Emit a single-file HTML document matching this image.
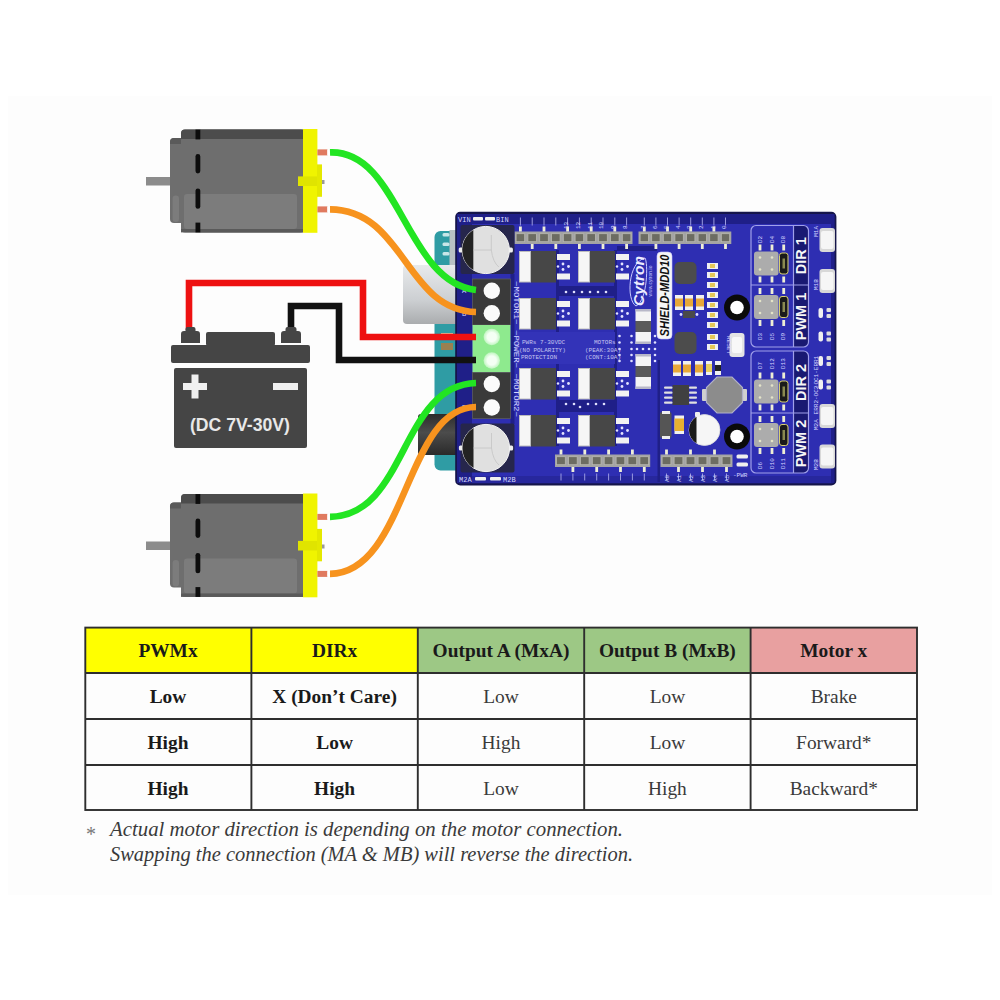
<!DOCTYPE html>
<html><head><meta charset="utf-8">
<style>
html,body{margin:0;padding:0;background:#fff;width:1000px;height:1000px;overflow:hidden}
svg{display:block}
.hd{font-family:"Liberation Serif",serif;font-weight:bold;font-size:19.4px;fill:#1a1a1a}
.bd{font-family:"Liberation Serif",serif;font-weight:bold;font-size:19.4px;fill:#1a1a1a}
.rg{font-family:"Liberation Serif",serif;font-size:19.4px;fill:#3a3a3a}
.ft{font-family:"Liberation Serif",serif;font-style:italic;font-size:20px;fill:#3a3a3a}
</style></head><body>
<svg width="1000" height="1000" viewBox="0 0 1000 1000">
<rect x="8" y="96" width="984" height="799" fill="#fdfdfd"/>
<defs><linearGradient id="usb" x1="0" y1="0" x2="0" y2="1"><stop offset="0" stop-color="#e8eaec"/><stop offset=".6" stop-color="#cccfd2"/><stop offset="1" stop-color="#aaacae"/></linearGradient><linearGradient id="jack" x1="0" y1="0" x2="0" y2="1"><stop offset="0" stop-color="#2c2c2c"/><stop offset=".45" stop-color="#4c4c4c"/><stop offset="1" stop-color="#2a2a2a"/></linearGradient><radialGradient id="grn" cx=".5" cy=".5" r=".5"><stop offset=".55" stop-color="#f4fff4"/><stop offset="1" stop-color="#bff5bf"/></radialGradient></defs>
<rect x="434.5" y="231" width="30" height="239.5" rx="6" fill="#2f9ca4"/>
<rect x="449.5" y="230" width="7" height="70" fill="#b8c0c4"/><g fill="#c8e6e8"><rect x="442.5" y="233" width="7" height="3.5" rx="1.5"/><rect x="442.5" y="242.5" width="7" height="3.5" rx="1.5"/><rect x="442.5" y="252" width="7" height="3.5" rx="1.5"/></g>
<rect x="403" y="265" width="60" height="59" rx="4" fill="url(#usb)"/>
<rect x="418" y="414" width="45" height="41" rx="3" fill="url(#jack)"/>
<rect x="441" y="333" width="12" height="6" fill="#d8c8a0"/><rect x="441" y="343" width="12" height="7" fill="#9a8050"/>
<rect x="456.3" y="212.8" width="379" height="271.6" rx="4" fill="#2e2eb2" stroke="#15154a" stroke-width="2.2"/>
<g fill="#1f1f88">
<rect x="457" y="214" width="15" height="269"/>
<rect x="457" y="214" width="376" height="10"/>
<rect x="457" y="476" width="376" height="7" opacity=".5"/>
<rect x="510.5" y="274" width="4" height="150"/>
<rect x="556" y="250" width="3" height="196"/>
<rect x="559" y="286" width="56" height="10"/>
<rect x="559" y="400" width="56" height="12"/>
<rect x="614" y="250" width="3" height="196"/>
<rect x="657.5" y="360" width="2.5" height="122"/>
<rect x="617" y="246" width="40" height="5"/>
<rect x="831" y="214" width="3.5" height="269"/>
</g>
<g fill="#3333b8">
<rect x="515" y="332" width="100" height="32"/>
</g>
<rect x="514.5" y="231.5" width="118.0" height="12.5" fill="#a4a4a4"/><rect x="516.1" y="233.7" width="8.6" height="8" fill="#6c6c62" stroke="#b8b8b0" stroke-width=".8"/><rect x="527.9" y="233.7" width="8.6" height="8" fill="#6c6c62" stroke="#b8b8b0" stroke-width=".8"/><rect x="539.7" y="233.7" width="8.6" height="8" fill="#6c6c62" stroke="#b8b8b0" stroke-width=".8"/><rect x="551.5" y="233.7" width="8.6" height="8" fill="#6c6c62" stroke="#b8b8b0" stroke-width=".8"/><rect x="563.3" y="233.7" width="8.6" height="8" fill="#6c6c62" stroke="#b8b8b0" stroke-width=".8"/><rect x="575.1" y="233.7" width="8.6" height="8" fill="#6c6c62" stroke="#b8b8b0" stroke-width=".8"/><rect x="586.9" y="233.7" width="8.6" height="8" fill="#6c6c62" stroke="#b8b8b0" stroke-width=".8"/><rect x="598.7" y="233.7" width="8.6" height="8" fill="#6c6c62" stroke="#b8b8b0" stroke-width=".8"/><rect x="610.5" y="233.7" width="8.6" height="8" fill="#6c6c62" stroke="#b8b8b0" stroke-width=".8"/><rect x="622.3" y="233.7" width="8.6" height="8" fill="#6c6c62" stroke="#b8b8b0" stroke-width=".8"/>
<rect x="519.0" y="226.5" width="2.8" height="5" fill="#eeeed8"/><rect x="519.9" y="217.5" width="1" height="8" fill="#9a9ae0"/><rect x="530.8" y="244.0" width="2.8" height="5" fill="#eeeed8"/><rect x="531.7" y="217.5" width="1" height="8" fill="#9a9ae0"/><rect x="542.6" y="226.5" width="2.8" height="5" fill="#eeeed8"/><rect x="543.5" y="217.5" width="1" height="8" fill="#9a9ae0"/><rect x="554.4" y="244.0" width="2.8" height="5" fill="#eeeed8"/><rect x="555.3" y="217.5" width="1" height="8" fill="#9a9ae0"/><rect x="566.2" y="226.5" width="2.8" height="5" fill="#eeeed8"/><rect x="567.1" y="217.5" width="1" height="8" fill="#9a9ae0"/><rect x="578.0" y="244.0" width="2.8" height="5" fill="#eeeed8"/><rect x="578.9" y="217.5" width="1" height="8" fill="#9a9ae0"/><rect x="589.8" y="226.5" width="2.8" height="5" fill="#eeeed8"/><rect x="590.7" y="217.5" width="1" height="8" fill="#9a9ae0"/><rect x="601.6" y="244.0" width="2.8" height="5" fill="#eeeed8"/><rect x="602.5" y="217.5" width="1" height="8" fill="#9a9ae0"/><rect x="613.4" y="226.5" width="2.8" height="5" fill="#eeeed8"/><rect x="614.3" y="217.5" width="1" height="8" fill="#9a9ae0"/><rect x="625.2" y="244.0" width="2.8" height="5" fill="#eeeed8"/><rect x="626.1" y="217.5" width="1" height="8" fill="#9a9ae0"/>
<rect x="638.5" y="231.5" width="92.8" height="12.5" fill="#a4a4a4"/><rect x="640.1" y="233.7" width="8.4" height="8" fill="#6c6c62" stroke="#b8b8b0" stroke-width=".8"/><rect x="651.7" y="233.7" width="8.4" height="8" fill="#6c6c62" stroke="#b8b8b0" stroke-width=".8"/><rect x="663.3" y="233.7" width="8.4" height="8" fill="#6c6c62" stroke="#b8b8b0" stroke-width=".8"/><rect x="674.9" y="233.7" width="8.4" height="8" fill="#6c6c62" stroke="#b8b8b0" stroke-width=".8"/><rect x="686.5" y="233.7" width="8.4" height="8" fill="#6c6c62" stroke="#b8b8b0" stroke-width=".8"/><rect x="698.1" y="233.7" width="8.4" height="8" fill="#6c6c62" stroke="#b8b8b0" stroke-width=".8"/><rect x="709.7" y="233.7" width="8.4" height="8" fill="#6c6c62" stroke="#b8b8b0" stroke-width=".8"/><rect x="721.3" y="233.7" width="8.4" height="8" fill="#6c6c62" stroke="#b8b8b0" stroke-width=".8"/>
<rect x="642.9" y="226.5" width="2.8" height="5" fill="#eeeed8"/><rect x="643.8" y="217.5" width="1" height="8" fill="#9a9ae0"/><rect x="654.5" y="244.0" width="2.8" height="5" fill="#eeeed8"/><rect x="655.4" y="217.5" width="1" height="8" fill="#9a9ae0"/><rect x="666.1" y="226.5" width="2.8" height="5" fill="#eeeed8"/><rect x="667.0" y="217.5" width="1" height="8" fill="#9a9ae0"/><rect x="677.7" y="244.0" width="2.8" height="5" fill="#eeeed8"/><rect x="678.6" y="217.5" width="1" height="8" fill="#9a9ae0"/><rect x="689.3" y="226.5" width="2.8" height="5" fill="#eeeed8"/><rect x="690.2" y="217.5" width="1" height="8" fill="#9a9ae0"/><rect x="700.9" y="244.0" width="2.8" height="5" fill="#eeeed8"/><rect x="701.8" y="217.5" width="1" height="8" fill="#9a9ae0"/><rect x="712.5" y="226.5" width="2.8" height="5" fill="#eeeed8"/><rect x="713.4" y="217.5" width="1" height="8" fill="#9a9ae0"/><rect x="724.1" y="244.0" width="2.8" height="5" fill="#eeeed8"/><rect x="725.0" y="217.5" width="1" height="8" fill="#9a9ae0"/>
<rect x="555" y="454.5" width="95.2" height="12.5" fill="#a4a4a4"/><rect x="556.6" y="456.7" width="8.7" height="8" fill="#6c6c62" stroke="#b8b8b0" stroke-width=".8"/><rect x="568.5" y="456.7" width="8.7" height="8" fill="#6c6c62" stroke="#b8b8b0" stroke-width=".8"/><rect x="580.4" y="456.7" width="8.7" height="8" fill="#6c6c62" stroke="#b8b8b0" stroke-width=".8"/><rect x="592.3" y="456.7" width="8.7" height="8" fill="#6c6c62" stroke="#b8b8b0" stroke-width=".8"/><rect x="604.2" y="456.7" width="8.7" height="8" fill="#6c6c62" stroke="#b8b8b0" stroke-width=".8"/><rect x="616.1" y="456.7" width="8.7" height="8" fill="#6c6c62" stroke="#b8b8b0" stroke-width=".8"/><rect x="628.0" y="456.7" width="8.7" height="8" fill="#6c6c62" stroke="#b8b8b0" stroke-width=".8"/><rect x="639.9" y="456.7" width="8.7" height="8" fill="#6c6c62" stroke="#b8b8b0" stroke-width=".8"/>
<rect x="559.6" y="449.5" width="2.8" height="5" fill="#eeeed8"/><rect x="560.5" y="473.5" width="1" height="7" fill="#9a9ae0"/><rect x="571.5" y="467.0" width="2.8" height="5" fill="#eeeed8"/><rect x="572.4" y="473.5" width="1" height="7" fill="#9a9ae0"/><rect x="583.4" y="449.5" width="2.8" height="5" fill="#eeeed8"/><rect x="584.2" y="473.5" width="1" height="7" fill="#9a9ae0"/><rect x="595.3" y="467.0" width="2.8" height="5" fill="#eeeed8"/><rect x="596.2" y="473.5" width="1" height="7" fill="#9a9ae0"/><rect x="607.2" y="449.5" width="2.8" height="5" fill="#eeeed8"/><rect x="608.1" y="473.5" width="1" height="7" fill="#9a9ae0"/><rect x="619.1" y="467.0" width="2.8" height="5" fill="#eeeed8"/><rect x="620.0" y="473.5" width="1" height="7" fill="#9a9ae0"/><rect x="631.0" y="449.5" width="2.8" height="5" fill="#eeeed8"/><rect x="631.9" y="473.5" width="1" height="7" fill="#9a9ae0"/><rect x="642.9" y="467.0" width="2.8" height="5" fill="#eeeed8"/><rect x="643.8" y="473.5" width="1" height="7" fill="#9a9ae0"/>
<rect x="660.5" y="454.5" width="72.0" height="12.5" fill="#a4a4a4"/><rect x="662.1" y="456.7" width="8.8" height="8" fill="#6c6c62" stroke="#b8b8b0" stroke-width=".8"/><rect x="674.1" y="456.7" width="8.8" height="8" fill="#6c6c62" stroke="#b8b8b0" stroke-width=".8"/><rect x="686.1" y="456.7" width="8.8" height="8" fill="#6c6c62" stroke="#b8b8b0" stroke-width=".8"/><rect x="698.1" y="456.7" width="8.8" height="8" fill="#6c6c62" stroke="#b8b8b0" stroke-width=".8"/><rect x="710.1" y="456.7" width="8.8" height="8" fill="#6c6c62" stroke="#b8b8b0" stroke-width=".8"/><rect x="722.1" y="456.7" width="8.8" height="8" fill="#6c6c62" stroke="#b8b8b0" stroke-width=".8"/>
<rect x="665.1" y="449.5" width="2.8" height="5" fill="#eeeed8"/><rect x="666.0" y="473.5" width="1" height="7" fill="#9a9ae0"/><rect x="677.1" y="467.0" width="2.8" height="5" fill="#eeeed8"/><rect x="678.0" y="473.5" width="1" height="7" fill="#9a9ae0"/><rect x="689.1" y="449.5" width="2.8" height="5" fill="#eeeed8"/><rect x="690.0" y="473.5" width="1" height="7" fill="#9a9ae0"/><rect x="701.1" y="467.0" width="2.8" height="5" fill="#eeeed8"/><rect x="702.0" y="473.5" width="1" height="7" fill="#9a9ae0"/><rect x="713.1" y="449.5" width="2.8" height="5" fill="#eeeed8"/><rect x="714.0" y="473.5" width="1" height="7" fill="#9a9ae0"/><rect x="725.1" y="467.0" width="2.8" height="5" fill="#eeeed8"/><rect x="726.0" y="473.5" width="1" height="7" fill="#9a9ae0"/>
<rect x="519" y="251" width="12" height="31.5" fill="#bdbdbd"/><rect x="520" y="252" width="10" height="29.5" fill="#f6f6f6"/><rect x="531" y="251" width="25" height="31.5" fill="#474747"/><rect x="557" y="254" width="13" height="6" fill="#f2f2f2"/><rect x="557" y="273.5" width="13" height="6" fill="#f2f2f2"/><g fill="#e4e4ff"><circle cx="563" cy="264" r="1.4"/><circle cx="563" cy="269.5" r="1.4"/><circle cx="568.5" cy="266.5" r="1.4"/><circle cx="558" cy="266.5" r="1.2"/></g>
<rect x="578" y="251" width="12" height="31.5" fill="#bdbdbd"/><rect x="579" y="252" width="10" height="29.5" fill="#f6f6f6"/><rect x="590" y="251" width="25" height="31.5" fill="#474747"/><rect x="616" y="254" width="13" height="6" fill="#f2f2f2"/><rect x="616" y="273.5" width="13" height="6" fill="#f2f2f2"/><g fill="#e4e4ff"><circle cx="622" cy="264" r="1.4"/><circle cx="622" cy="269.5" r="1.4"/><circle cx="627.5" cy="266.5" r="1.4"/><circle cx="617" cy="266.5" r="1.2"/></g>
<rect x="519" y="298" width="12" height="31.5" fill="#bdbdbd"/><rect x="520" y="299" width="10" height="29.5" fill="#f6f6f6"/><rect x="531" y="298" width="25" height="31.5" fill="#474747"/><rect x="557" y="301" width="13" height="6" fill="#f2f2f2"/><rect x="557" y="320.5" width="13" height="6" fill="#f2f2f2"/><g fill="#e4e4ff"><circle cx="563" cy="311" r="1.4"/><circle cx="563" cy="316.5" r="1.4"/><circle cx="568.5" cy="313.5" r="1.4"/><circle cx="558" cy="313.5" r="1.2"/></g>
<rect x="578" y="298" width="12" height="31.5" fill="#bdbdbd"/><rect x="579" y="299" width="10" height="29.5" fill="#f6f6f6"/><rect x="590" y="298" width="25" height="31.5" fill="#474747"/><rect x="616" y="301" width="13" height="6" fill="#f2f2f2"/><rect x="616" y="320.5" width="13" height="6" fill="#f2f2f2"/><g fill="#e4e4ff"><circle cx="622" cy="311" r="1.4"/><circle cx="622" cy="316.5" r="1.4"/><circle cx="627.5" cy="313.5" r="1.4"/><circle cx="617" cy="313.5" r="1.2"/></g>
<rect x="519" y="368" width="12" height="31.5" fill="#bdbdbd"/><rect x="520" y="369" width="10" height="29.5" fill="#f6f6f6"/><rect x="531" y="368" width="25" height="31.5" fill="#474747"/><rect x="557" y="371" width="13" height="6" fill="#f2f2f2"/><rect x="557" y="390.5" width="13" height="6" fill="#f2f2f2"/><g fill="#e4e4ff"><circle cx="563" cy="381" r="1.4"/><circle cx="563" cy="386.5" r="1.4"/><circle cx="568.5" cy="383.5" r="1.4"/><circle cx="558" cy="383.5" r="1.2"/></g>
<rect x="578" y="368" width="12" height="31.5" fill="#bdbdbd"/><rect x="579" y="369" width="10" height="29.5" fill="#f6f6f6"/><rect x="590" y="368" width="25" height="31.5" fill="#474747"/><rect x="616" y="371" width="13" height="6" fill="#f2f2f2"/><rect x="616" y="390.5" width="13" height="6" fill="#f2f2f2"/><g fill="#e4e4ff"><circle cx="622" cy="381" r="1.4"/><circle cx="622" cy="386.5" r="1.4"/><circle cx="627.5" cy="383.5" r="1.4"/><circle cx="617" cy="383.5" r="1.2"/></g>
<rect x="519" y="415" width="12" height="31.5" fill="#bdbdbd"/><rect x="520" y="416" width="10" height="29.5" fill="#f6f6f6"/><rect x="531" y="415" width="25" height="31.5" fill="#474747"/><rect x="557" y="418" width="13" height="6" fill="#f2f2f2"/><rect x="557" y="437.5" width="13" height="6" fill="#f2f2f2"/><g fill="#e4e4ff"><circle cx="563" cy="428" r="1.4"/><circle cx="563" cy="433.5" r="1.4"/><circle cx="568.5" cy="430.5" r="1.4"/><circle cx="558" cy="430.5" r="1.2"/></g>
<rect x="578" y="415" width="12" height="31.5" fill="#bdbdbd"/><rect x="579" y="416" width="10" height="29.5" fill="#f6f6f6"/><rect x="590" y="415" width="25" height="31.5" fill="#474747"/><rect x="616" y="418" width="13" height="6" fill="#f2f2f2"/><rect x="616" y="437.5" width="13" height="6" fill="#f2f2f2"/><g fill="#e4e4ff"><circle cx="622" cy="428" r="1.4"/><circle cx="622" cy="433.5" r="1.4"/><circle cx="627.5" cy="430.5" r="1.4"/><circle cx="617" cy="430.5" r="1.2"/></g>
<g fill="#e0e0ff">
<circle cx="582" cy="292" r="1.3"/>
<circle cx="590" cy="292" r="1.3"/>
<circle cx="598" cy="292" r="1.3"/>
<circle cx="606" cy="292" r="1.3"/>
<circle cx="566" cy="292" r="1.3"/>
<circle cx="574" cy="292" r="1.3"/>
<circle cx="588" cy="404" r="1.3"/>
<circle cx="596" cy="404" r="1.3"/>
<circle cx="604" cy="404" r="1.3"/>
<circle cx="566" cy="404" r="1.3"/>
<circle cx="574" cy="404" r="1.3"/>
<circle cx="580" cy="407" r="1.3"/>
</g>
<rect x="460.5" y="225" width="54" height="49" rx="2" fill="#26264c"/>
<rect x="460.5" y="423.5" width="54" height="49" rx="2" fill="#26264c"/>
<rect x="458.7" y="247.5" width="5" height="5" rx="1.5" fill="#eee"/><rect x="507.90000000000003" y="247.5" width="5" height="5" rx="1.5" fill="#eee"/><circle cx="485.8" cy="250" r="23.6" fill="#e0e0e0" stroke="#f4f4f4" stroke-width="1"/><path d="M473.3,230.0 A23.6,23.6 0 0 0 473.3,270.0 Z" fill="#232323"/><path d="M473.3,250H491.3V235M491.3,250Q492.8,262 498.8,267" stroke="#c4c4c4" stroke-width="0.8" fill="none"/>
<rect x="458.9" y="445.5" width="5" height="5" rx="1.5" fill="#eee"/><rect x="508.1" y="445.5" width="5" height="5" rx="1.5" fill="#eee"/><circle cx="486" cy="448" r="23.6" fill="#e0e0e0" stroke="#f4f4f4" stroke-width="1"/><path d="M473.5,428.0 A23.6,23.6 0 0 0 473.5,468.0 Z" fill="#232323"/><path d="M473.5,448H491.5V433M491.5,448Q493,460 499,465" stroke="#c4c4c4" stroke-width="0.8" fill="none"/>
<rect x="472.5" y="279" width="38" height="46" fill="#3a3a3a" stroke="#5a5a5a" stroke-width=".8"/>
<rect x="472.5" y="325" width="38" height="47.5" fill="#8eea8e"/>
<rect x="472.5" y="372.5" width="38" height="46" fill="#3a3a3a" stroke="#5a5a5a" stroke-width=".8"/>
<circle cx="491.8" cy="290.7" r="8.2" fill="#fbfbfb"/>
<circle cx="491.8" cy="313.2" r="8.2" fill="#fbfbfb"/>
<circle cx="491.8" cy="384" r="8.2" fill="#fbfbfb"/>
<circle cx="491.8" cy="407.5" r="8.2" fill="#fbfbfb"/>
<circle cx="491.8" cy="337" r="8.2" fill="url(#grn)"/>
<circle cx="491.8" cy="360.5" r="8.2" fill="url(#grn)"/>
<path d="M657,256 a4,4 0 0 1 4,-4 h7 a4,4 0 0 1 4,4 v79 a4,4 0 0 1 -4,4 h-7 a4,4 0 0 1 -4,-4z" fill="#f6f6f6" stroke="#c8c8ff" stroke-width=".6"/>
<text transform="translate(669,295.5) rotate(-90)" text-anchor="middle" font-family="Liberation Sans" font-weight="bold" font-style="italic" font-size="12.5" fill="#111" textLength="82" lengthAdjust="spacingAndGlyphs">SHIELD-MDD10</text>
<path d="M645,258 C628,262 626,300 636,306 C648,300 648,262 645,258z" fill="none" stroke="#c8c8ff" stroke-width="1"/>
<text transform="translate(643.5,281) rotate(-90)" text-anchor="middle" font-family="Liberation Sans" font-style="italic" font-weight="bold" font-size="14" fill="#ececff" textLength="50" lengthAdjust="spacingAndGlyphs">Cytron</text>
<text transform="translate(652,281) rotate(-90)" text-anchor="middle" font-family="Liberation Sans" font-size="5" fill="#c8c8ff">www.cytron.io</text>
<rect x="635.5" y="309" width="15.5" height="12" fill="#f4f4f4"/><rect x="635.5" y="321" width="15.5" height="11" fill="#5a5a5a"/><rect x="635.5" y="332" width="15.5" height="12" fill="#f4f4f4"/><rect x="635.5" y="309" width="15.5" height="2.5" fill="#b8b8c8"/><rect x="635.5" y="341.5" width="15.5" height="2.5" fill="#b8b8c8"/>
<rect x="635.5" y="354" width="15.5" height="12" fill="#f4f4f4"/><rect x="635.5" y="366" width="15.5" height="11" fill="#5a5a5a"/><rect x="635.5" y="377" width="15.5" height="12" fill="#f4f4f4"/><rect x="635.5" y="354" width="15.5" height="2.5" fill="#b8b8c8"/><rect x="635.5" y="386.5" width="15.5" height="2.5" fill="#b8b8c8"/>
<g fill="#e0e0ff">
<circle cx="619.5" cy="336" r="1.3"/>
<circle cx="619.5" cy="342.5" r="1.3"/>
<circle cx="619.5" cy="349" r="1.3"/>
<circle cx="619.5" cy="355" r="1.3"/>
<circle cx="619.5" cy="361" r="1.3"/>
<circle cx="631.5" cy="336" r="1.3"/>
<circle cx="631.5" cy="342.5" r="1.3"/>
<circle cx="631.5" cy="349" r="1.3"/>
<circle cx="631.5" cy="355" r="1.3"/>
<circle cx="631.5" cy="361" r="1.3"/>
<circle cx="655" cy="336" r="1.3"/>
<circle cx="655" cy="342.5" r="1.3"/>
<circle cx="655" cy="349" r="1.3"/>
<circle cx="655" cy="355" r="1.3"/>
<circle cx="655" cy="361" r="1.3"/>
<circle cx="637" cy="349" r="1.3"/>
<circle cx="643" cy="349" r="1.3"/>
<circle cx="649" cy="349" r="1.3"/>
</g>
<rect x="674.5" y="262" width="22" height="22" rx="5" fill="#4c4c4c"/>
<rect x="674.5" y="332" width="22" height="22" rx="5" fill="#4c4c4c"/>
<rect x="675" y="295" width="8" height="15" fill="#f0f0f0"/><rect x="675" y="298.5" width="8" height="8" fill="#e8a838"/>
<rect x="685" y="295" width="8" height="15" fill="#f0f0f0"/><rect x="685" y="298.5" width="8" height="8" fill="#e8a838"/>
<rect x="696" y="295" width="8" height="15" fill="#f0f0f0"/><rect x="696" y="298.5" width="8" height="8" fill="#e8a838"/>
<rect x="673" y="361" width="8" height="15" fill="#f0f0f0"/><rect x="673" y="364.5" width="8" height="8" fill="#e8a838"/>
<rect x="683" y="361" width="8" height="15" fill="#f0f0f0"/><rect x="683" y="364.5" width="8" height="8" fill="#e8a838"/>
<rect x="695" y="361" width="8" height="15" fill="#f0f0f0"/><rect x="695" y="364.5" width="8" height="8" fill="#e8a838"/>
<rect x="706" y="361" width="6" height="14" fill="#f0f0f0"/><rect x="706" y="364" width="6" height="8" fill="#e8d060"/>
<rect x="715" y="361" width="6" height="14" fill="#f0f0f0"/><rect x="715" y="365" width="6" height="6" fill="#222"/>
<rect x="683" y="311" width="12" height="7" fill="#4a4a4a"/><circle cx="681" cy="314.5" r="1.4" fill="#e0e0ff"/><circle cx="697" cy="314.5" r="1.4" fill="#e0e0ff"/>
<rect x="707" y="263" width="11" height="6" fill="#f0f0f0"/><rect x="710" y="264" width="5" height="4" fill="#e6c858"/>
<rect x="707" y="272" width="11" height="6" fill="#f0f0f0"/><rect x="710" y="273" width="5" height="4" fill="#e6c858"/>
<rect x="707" y="282" width="11" height="6" fill="#f0f0f0"/><rect x="710" y="283" width="5" height="4" fill="#e6c858"/>
<rect x="707" y="292" width="11" height="6" fill="#f0f0f0"/><rect x="710" y="293" width="5" height="4" fill="#e6c858"/>
<rect x="707" y="302" width="11" height="6" fill="#f0f0f0"/><rect x="710" y="303" width="5" height="4" fill="#e6c858"/>
<rect x="707" y="312" width="11" height="6" fill="#f0f0f0"/><rect x="710" y="313" width="5" height="4" fill="#e6c858"/>
<rect x="707" y="322" width="11" height="6" fill="#f0f0f0"/><rect x="710" y="323" width="5" height="4" fill="#e6c858"/>
<rect x="707" y="334" width="11" height="6" fill="#f0f0f0"/><rect x="710" y="335" width="5" height="4" fill="#e6c858"/>
<rect x="707" y="344" width="11" height="6" fill="#f0f0f0"/><rect x="710" y="345" width="5" height="4" fill="#e6c858"/>
<circle cx="737" cy="307.5" r="13" fill="#0a0a0a"/><circle cx="737" cy="307.5" r="6.8" fill="#fff"/>
<circle cx="737" cy="436.5" r="13" fill="#0a0a0a"/><circle cx="737" cy="436.5" r="6.8" fill="#fff"/>
<rect x="729.5" y="333" width="15" height="24" rx="3" fill="#e4e4e4"/><rect x="732" y="337" width="10" height="16" rx="2" fill="#f8f8f8"/>
<text transform="translate(727,345) rotate(90)" text-anchor="middle" font-family="Liberation Mono" font-size="6" fill="#d6d6ff">RESET</text>
<rect x="702" y="389" width="6" height="12" rx="1" fill="#d0d0d0"/><rect x="741" y="389" width="6" height="12" rx="1" fill="#d0d0d0"/>
<polygon points="742.5,402.5 732.0,413.0 717.0,413.0 706.5,402.5 706.5,387.5 717.0,377.0 732.0,377.0 742.5,387.5" fill="#8c8c8c" stroke="#b0b0c8" stroke-width="1.2"/>
<rect x="672.5" y="385" width="16.5" height="20" fill="#404040"/>
<rect x="664" y="386.5" width="8.5" height="2.2" rx="1" fill="#e0e0e0"/><rect x="689" y="386.5" width="8" height="2.2" rx="1" fill="#e0e0e0"/>
<rect x="664" y="391.5" width="8.5" height="2.2" rx="1" fill="#e0e0e0"/><rect x="689" y="391.5" width="8" height="2.2" rx="1" fill="#e0e0e0"/>
<rect x="664" y="396.5" width="8.5" height="2.2" rx="1" fill="#e0e0e0"/><rect x="689" y="396.5" width="8" height="2.2" rx="1" fill="#e0e0e0"/>
<rect x="664" y="401.5" width="8.5" height="2.2" rx="1" fill="#e0e0e0"/><rect x="689" y="401.5" width="8" height="2.2" rx="1" fill="#e0e0e0"/>
<rect x="660" y="412" width="11.5" height="26" rx="2" fill="#555"/><rect x="662" y="411" width="8" height="3" fill="#eee"/><rect x="662" y="436" width="8" height="3" fill="#eee"/>
<rect x="674.5" y="415.5" width="9.5" height="18.5" fill="#f0f0f0"/><rect x="674.5" y="418.5" width="9.5" height="12.5" fill="#e8b030"/>
<circle cx="704.5" cy="430" r="15.5" fill="#f6f6f6" stroke="#ddd" stroke-width=".8"/><path d="M696.5,416.7 A15.5,15.5 0 0 0 696.5,443.3 Z" fill="#1a1a1a"/>
<rect x="695" y="412" width="5" height="5" rx="1" fill="#eee"/>
<rect x="736.5" y="454.5" width="11.5" height="4" rx="1.5" fill="#eee"/><rect x="736.5" y="462.5" width="11.5" height="4" rx="1.5" fill="#eee"/>
<path d="M793.5,225.5 H803.5 a5,5 0 0 1 5,5 V342 a5,5 0 0 1 -5,5 H793.5Z" fill="#191972"/><rect x="751" y="225.5" width="57.5" height="121.5" rx="5" fill="none" stroke="#a0a0ea" stroke-width="1.2"/><path d="M793.5,225.5V347M751,285H808.5" stroke="#a0a0ea" stroke-width="1.2"/><text transform="translate(806.3,255.75) rotate(-90)" text-anchor="middle" font-family="Liberation Sans" font-weight="bold" font-size="14.5" fill="#f6f6f6">DIR 1</text><rect x="754" y="251.5" width="24.5" height="24" rx="3" fill="#acacac"/><g fill="#e4e4c8"><circle cx="760" cy="257.5" r="1.3"/><circle cx="772" cy="257.5" r="1.3"/><circle cx="760" cy="269.5" r="1.3"/><circle cx="772" cy="269.5" r="1.3"/></g><rect x="779.5" y="253.0" width="8.5" height="21" rx="2.5" fill="#1a1a1a" stroke="#d8d070" stroke-width="1"/><rect x="782.5" y="258.5" width="2.5" height="10" fill="#8a8a50"/><rect x="758.6" y="244.5" width="2.8" height="6" fill="#eeeed4"/><rect x="758.6" y="276.5" width="2.8" height="6" fill="#eeeed4"/><rect x="770.6" y="244.5" width="2.8" height="6" fill="#eeeed4"/><rect x="770.6" y="276.5" width="2.8" height="6" fill="#eeeed4"/><rect x="782.3000000000001" y="244.5" width="2.8" height="6" fill="#eeeed4"/><rect x="782.3000000000001" y="276.5" width="2.8" height="6" fill="#eeeed4"/><text transform="translate(806.3,316.5) rotate(-90)" text-anchor="middle" font-family="Liberation Sans" font-weight="bold" font-size="14.5" fill="#f6f6f6">PWM 1</text><rect x="754" y="295" width="24.5" height="24" rx="3" fill="#acacac"/><g fill="#e4e4c8"><circle cx="760" cy="301" r="1.3"/><circle cx="772" cy="301" r="1.3"/><circle cx="760" cy="313" r="1.3"/><circle cx="772" cy="313" r="1.3"/></g><rect x="779.5" y="296.5" width="8.5" height="21" rx="2.5" fill="#1a1a1a" stroke="#d8d070" stroke-width="1"/><rect x="782.5" y="302" width="2.5" height="10" fill="#8a8a50"/><rect x="758.6" y="288" width="2.8" height="6" fill="#eeeed4"/><rect x="758.6" y="320" width="2.8" height="6" fill="#eeeed4"/><rect x="770.6" y="288" width="2.8" height="6" fill="#eeeed4"/><rect x="770.6" y="320" width="2.8" height="6" fill="#eeeed4"/><rect x="782.3000000000001" y="288" width="2.8" height="6" fill="#eeeed4"/><rect x="782.3000000000001" y="320" width="2.8" height="6" fill="#eeeed4"/>
<path d="M793.5,351 H803.5 a5,5 0 0 1 5,5 V468 a5,5 0 0 1 -5,5 H793.5Z" fill="#191972"/><rect x="751" y="351" width="57.5" height="122" rx="5" fill="none" stroke="#a0a0ea" stroke-width="1.2"/><path d="M793.5,351V473M751,413H808.5" stroke="#a0a0ea" stroke-width="1.2"/><text transform="translate(806.3,382.5) rotate(-90)" text-anchor="middle" font-family="Liberation Sans" font-weight="bold" font-size="14.5" fill="#f6f6f6">DIR 2</text><rect x="754" y="379.5" width="24.5" height="24" rx="3" fill="#acacac"/><g fill="#e4e4c8"><circle cx="760" cy="385.5" r="1.3"/><circle cx="772" cy="385.5" r="1.3"/><circle cx="760" cy="397.5" r="1.3"/><circle cx="772" cy="397.5" r="1.3"/></g><rect x="779.5" y="381.0" width="8.5" height="21" rx="2.5" fill="#1a1a1a" stroke="#d8d070" stroke-width="1"/><rect x="782.5" y="386.5" width="2.5" height="10" fill="#8a8a50"/><rect x="758.6" y="372.5" width="2.8" height="6" fill="#eeeed4"/><rect x="758.6" y="404.5" width="2.8" height="6" fill="#eeeed4"/><rect x="770.6" y="372.5" width="2.8" height="6" fill="#eeeed4"/><rect x="770.6" y="404.5" width="2.8" height="6" fill="#eeeed4"/><rect x="782.3000000000001" y="372.5" width="2.8" height="6" fill="#eeeed4"/><rect x="782.3000000000001" y="404.5" width="2.8" height="6" fill="#eeeed4"/><text transform="translate(806.3,443.5) rotate(-90)" text-anchor="middle" font-family="Liberation Sans" font-weight="bold" font-size="14.5" fill="#f6f6f6">PWM 2</text><rect x="754" y="423" width="24.5" height="24" rx="3" fill="#acacac"/><g fill="#e4e4c8"><circle cx="760" cy="429" r="1.3"/><circle cx="772" cy="429" r="1.3"/><circle cx="760" cy="441" r="1.3"/><circle cx="772" cy="441" r="1.3"/></g><rect x="779.5" y="424.5" width="8.5" height="21" rx="2.5" fill="#1a1a1a" stroke="#d8d070" stroke-width="1"/><rect x="782.5" y="430" width="2.5" height="10" fill="#8a8a50"/><rect x="758.6" y="416" width="2.8" height="6" fill="#eeeed4"/><rect x="758.6" y="448" width="2.8" height="6" fill="#eeeed4"/><rect x="770.6" y="416" width="2.8" height="6" fill="#eeeed4"/><rect x="770.6" y="448" width="2.8" height="6" fill="#eeeed4"/><rect x="782.3000000000001" y="416" width="2.8" height="6" fill="#eeeed4"/><rect x="782.3000000000001" y="448" width="2.8" height="6" fill="#eeeed4"/>
<rect x="819.5" y="228" width="15.5" height="24" rx="3" fill="#d8d8d8"/><rect x="821" y="231" width="12.5" height="18" rx="2" fill="#f6f6f6"/>
<rect x="819.5" y="269" width="15.5" height="24" rx="3" fill="#d8d8d8"/><rect x="821" y="272" width="12.5" height="18" rx="2" fill="#f6f6f6"/>
<rect x="819.5" y="404" width="15.5" height="24" rx="3" fill="#d8d8d8"/><rect x="821" y="407" width="12.5" height="18" rx="2" fill="#f6f6f6"/>
<rect x="819.5" y="444.5" width="15.5" height="24" rx="3" fill="#d8d8d8"/><rect x="821" y="447.5" width="12.5" height="18" rx="2" fill="#f6f6f6"/>
<rect x="818.5" y="308" width="4.5" height="10" rx="2" fill="#f0f0f0"/><rect x="826.5" y="308" width="4.5" height="4" rx="1" fill="#ddd"/><rect x="826.5" y="314" width="4.5" height="4" rx="1" fill="#ddd"/>
<rect x="818.5" y="331.5" width="4.5" height="10" rx="2" fill="#f0f0f0"/><rect x="826.5" y="331.5" width="4.5" height="4" rx="1" fill="#ddd"/><rect x="826.5" y="337.5" width="4.5" height="4" rx="1" fill="#ddd"/>
<rect x="818.5" y="356" width="4.5" height="10" rx="2" fill="#f0f0f0"/><rect x="826.5" y="356" width="4.5" height="4" rx="1" fill="#ddd"/><rect x="826.5" y="362" width="4.5" height="4" rx="1" fill="#ddd"/>
<rect x="818.5" y="379.5" width="4.5" height="10" rx="2" fill="#f0f0f0"/><rect x="826.5" y="379.5" width="4.5" height="4" rx="1" fill="#ddd"/><rect x="826.5" y="385.5" width="4.5" height="4" rx="1" fill="#ddd"/>
<g font-family="Liberation Mono" font-size="7" fill="#d6d6ff">
<text x="458" y="221.5">VIN</text><text x="496" y="221.5">BIN</text>
<text x="459" y="481.5">M2A</text><text x="503" y="481.5">M2B</text>
<text x="462" y="293.0">A</text>
<text x="462" y="316.4">B</text>
<text x="462" y="339.8">+</text>
<text x="462" y="363.2">-</text>
<text x="462" y="386.6">A</text>
<text x="462" y="410.0">B</text>
</g>
<g fill="#f0f0f0"><rect x="473" y="217" width="10" height="3.5" rx="1"/><rect x="485" y="217" width="10" height="3.5" rx="1"/><rect x="475" y="477" width="11" height="3.5" rx="1"/><rect x="490" y="477" width="11" height="3.5" rx="1"/></g>
<g font-family="Liberation Mono" font-size="6" fill="#c4c4f0"><text x="522" y="344">PWRs 7-30VDC</text><text x="519" y="351.5">(NO POLARITY)</text><text x="521" y="358.5">PROTECTION</text><text x="594" y="344">MOTORs</text><text x="585" y="351.5">(PEAK:30A)</text><text x="585" y="358.5">(CONT:10A)</text></g>
<text transform="translate(514,349) rotate(90)" text-anchor="middle" font-family="Liberation Mono" font-size="7" fill="#d6d6ff" textLength="136" lengthAdjust="spacingAndGlyphs">~MOTOR1~ ~POWER~ ~MOTOR2~</text>
<text transform="translate(568.0,229) rotate(-90)" font-family="Liberation Mono" font-size="6" fill="#d6d6ff">13</text>
<text transform="translate(579.8,229) rotate(-90)" font-family="Liberation Mono" font-size="6" fill="#d6d6ff">12</text>
<text transform="translate(591.6,229) rotate(-90)" font-family="Liberation Mono" font-size="6" fill="#d6d6ff">11</text>
<text transform="translate(603.4,229) rotate(-90)" font-family="Liberation Mono" font-size="6" fill="#d6d6ff">10</text>
<text transform="translate(615.2,229) rotate(-90)" font-family="Liberation Mono" font-size="6" fill="#d6d6ff">9</text>
<text transform="translate(627.0,229) rotate(-90)" font-family="Liberation Mono" font-size="6" fill="#d6d6ff">8</text>
<text transform="translate(645.0,229) rotate(-90)" font-family="Liberation Mono" font-size="6" fill="#d6d6ff">7</text>
<text transform="translate(656.6,229) rotate(-90)" font-family="Liberation Mono" font-size="6" fill="#d6d6ff">6</text>
<text transform="translate(668.2,229) rotate(-90)" font-family="Liberation Mono" font-size="6" fill="#d6d6ff">5</text>
<text transform="translate(679.8,229) rotate(-90)" font-family="Liberation Mono" font-size="6" fill="#d6d6ff">4</text>
<text transform="translate(691.4,229) rotate(-90)" font-family="Liberation Mono" font-size="6" fill="#d6d6ff">3</text>
<text transform="translate(703.0,229) rotate(-90)" font-family="Liberation Mono" font-size="6" fill="#d6d6ff">2</text>
<text transform="translate(714.6,229) rotate(-90)" font-family="Liberation Mono" font-size="6" fill="#d6d6ff">1</text>
<text transform="translate(726.2,229) rotate(-90)" font-family="Liberation Mono" font-size="6" fill="#d6d6ff">0</text>
<text transform="translate(669.0,482) rotate(-90)" font-family="Liberation Mono" font-size="6" fill="#d6d6ff">A0</text>
<text transform="translate(681.0,482) rotate(-90)" font-family="Liberation Mono" font-size="6" fill="#d6d6ff">A1</text>
<text transform="translate(693.0,482) rotate(-90)" font-family="Liberation Mono" font-size="6" fill="#d6d6ff">A2</text>
<text transform="translate(705.0,482) rotate(-90)" font-family="Liberation Mono" font-size="6" fill="#d6d6ff">A3</text>
<text transform="translate(717.0,482) rotate(-90)" font-family="Liberation Mono" font-size="6" fill="#d6d6ff">A4</text>
<text transform="translate(729.0,482) rotate(-90)" font-family="Liberation Mono" font-size="6" fill="#d6d6ff">A5</text>
<text transform="translate(762.0,243) rotate(-90)" font-family="Liberation Mono" font-size="6" fill="#d6d6ff">D2</text>
<text transform="translate(762.0,340) rotate(-90)" font-family="Liberation Mono" font-size="6" fill="#d6d6ff">D3</text>
<text transform="translate(773.5,243) rotate(-90)" font-family="Liberation Mono" font-size="6" fill="#d6d6ff">D4</text>
<text transform="translate(773.5,340) rotate(-90)" font-family="Liberation Mono" font-size="6" fill="#d6d6ff">D5</text>
<text transform="translate(785.0,243) rotate(-90)" font-family="Liberation Mono" font-size="6" fill="#d6d6ff">D8</text>
<text transform="translate(785.0,340) rotate(-90)" font-family="Liberation Mono" font-size="6" fill="#d6d6ff">D9</text>
<text transform="translate(762.0,369) rotate(-90)" font-family="Liberation Mono" font-size="6" fill="#d6d6ff">D7</text>
<text transform="translate(762.0,469) rotate(-90)" font-family="Liberation Mono" font-size="6" fill="#d6d6ff">D6</text>
<text transform="translate(773.5,369) rotate(-90)" font-family="Liberation Mono" font-size="6" fill="#d6d6ff">D12</text>
<text transform="translate(773.5,469) rotate(-90)" font-family="Liberation Mono" font-size="6" fill="#d6d6ff">D10</text>
<text transform="translate(785.0,369) rotate(-90)" font-family="Liberation Mono" font-size="6" fill="#d6d6ff">D13</text>
<text transform="translate(785.0,469) rotate(-90)" font-family="Liberation Mono" font-size="6" fill="#d6d6ff">D11</text>
<g font-family="Liberation Mono" font-size="6" fill="#d6d6ff">
<text transform="translate(818,226) rotate(-90)" text-anchor="end">M1A</text>
<text transform="translate(818,290) rotate(-90)">M1B</text>
<text transform="translate(818,372) rotate(-90)" text-anchor="middle">-OC1-ERR1</text>
<text transform="translate(818,400) rotate(-90)" text-anchor="middle">ERR2-OC2</text>
<text transform="translate(818,430) rotate(-90)">M2A</text>
<text transform="translate(818,470) rotate(-90)">M2B</text>
<text x="733" y="477">-PWR</text>
</g>
<g transform="translate(0,0)"><rect x="146" y="177" width="26" height="8.5" fill="#8c8c8c"/><rect x="170" y="138" width="20" height="85" rx="4" fill="#6e6e6e"/><rect x="181" y="129.6" width="123" height="102.8" rx="4" fill="#6e6e6e"/><rect x="200" y="129.6" width="103" height="102.8" fill="#6e6e6e"/><path d="M181,139 V133.6 a4,4 0 0 1 4,-4 H303 V139 Z" fill="#4c4c4c"/><path d="M170,144 V142 a4,4 0 0 1 4,-4 H181 V144 Z" fill="#5a5a5a"/><rect x="184" y="194" width="113" height="35" rx="3" fill="#7c7c7c"/><rect x="172.6" y="195.6" width="6.4" height="26.4" rx="3" fill="#7c7c7c"/><rect x="181" y="229" width="122" height="3.4" fill="#5a5a5a"/><g fill="#0d0d0d"><rect x="195.5" y="129.6" width="4.8" height="9.8"/><rect x="195.5" y="154" width="4.8" height="19.4" rx="2.4"/><rect x="195.5" y="188.4" width="4.8" height="20.4" rx="2.4"/><rect x="195.5" y="222.6" width="4.8" height="9.8"/></g><rect x="303" y="129" width="14.4" height="103.8" fill="#f0f400"/><rect x="317" y="164.4" width="5" height="32.4" fill="#e4e800"/><rect x="298" y="176.4" width="19" height="9.6" fill="#e0e400"/><rect x="322" y="180" width="2.5" height="4" fill="#999"/><rect x="317.4" y="149.4" width="10" height="6" fill="#e07a5f"/><rect x="327.4" y="149.8" width="2.6" height="5.2" fill="#fff"/><rect x="317.4" y="206.4" width="10" height="6" fill="#e07a5f"/><rect x="327.4" y="206.8" width="2.6" height="5.2" fill="#fff"/></g>
<g transform="translate(0,364.5)"><rect x="146" y="177" width="26" height="8.5" fill="#8c8c8c"/><rect x="170" y="138" width="20" height="85" rx="4" fill="#6e6e6e"/><rect x="181" y="129.6" width="123" height="102.8" rx="4" fill="#6e6e6e"/><rect x="200" y="129.6" width="103" height="102.8" fill="#6e6e6e"/><path d="M181,139 V133.6 a4,4 0 0 1 4,-4 H303 V139 Z" fill="#4c4c4c"/><path d="M170,144 V142 a4,4 0 0 1 4,-4 H181 V144 Z" fill="#5a5a5a"/><rect x="184" y="194" width="113" height="35" rx="3" fill="#7c7c7c"/><rect x="172.6" y="195.6" width="6.4" height="26.4" rx="3" fill="#7c7c7c"/><rect x="181" y="229" width="122" height="3.4" fill="#5a5a5a"/><g fill="#0d0d0d"><rect x="195.5" y="129.6" width="4.8" height="9.8"/><rect x="195.5" y="154" width="4.8" height="19.4" rx="2.4"/><rect x="195.5" y="188.4" width="4.8" height="20.4" rx="2.4"/><rect x="195.5" y="222.6" width="4.8" height="9.8"/></g><rect x="303" y="129" width="14.4" height="103.8" fill="#f0f400"/><rect x="317" y="164.4" width="5" height="32.4" fill="#e4e800"/><rect x="298" y="176.4" width="19" height="9.6" fill="#e0e400"/><rect x="322" y="180" width="2.5" height="4" fill="#999"/><rect x="317.4" y="149.4" width="10" height="6" fill="#e07a5f"/><rect x="327.4" y="149.8" width="2.6" height="5.2" fill="#fff"/><rect x="317.4" y="206.4" width="10" height="6" fill="#e07a5f"/><rect x="327.4" y="206.8" width="2.6" height="5.2" fill="#fff"/></g>
<g fill="none" stroke-width="6.6" stroke-linecap="butt">
<path d="M330,152.4 C400,150 405,282 476,290" stroke="#22e522"/>
<path d="M330,209.4 C405,210 405,310 476,312" stroke="#f7931e"/>
<path d="M330,516.9 C407,516 400,385 476,383" stroke="#22e522"/>
<path d="M330,573.9 C407,573 405,407 476,407" stroke="#f7931e"/>
<path d="M189,330 V283 H363 V337 H476" stroke="#ee1111"/>
<path d="M291,330 V306 H339 V360 H476" stroke="#111"/>
</g>
<g fill="#454545">
<path d="M181,343 V334 a3,3 0 0 1 3,-3 h1.5 v-2 a2,2 0 0 1 2,-2 h6 a2,2 0 0 1 2,2 v2 h1.5 a3,3 0 0 1 3,3 V343Z"/>
<path d="M281,343 V334 a3,3 0 0 1 3,-3 h1.5 v-2 a2,2 0 0 1 2,-2 h7 a2,2 0 0 1 2,2 v2 h1.5 a3,3 0 0 1 3,3 V343Z"/>
<rect x="206" y="332" width="69" height="14" rx="2"/>
<rect x="171" y="345" width="139" height="18" rx="2"/>
<rect x="174" y="368" width="133" height="80" rx="2"/>
</g>
<g fill="#f0f0f0"><rect x="183" y="383" width="24" height="7"/><rect x="191.5" y="374.5" width="7" height="24"/><rect x="273" y="383" width="25" height="7"/></g>
<text x="240" y="430.5" text-anchor="middle" font-family="Liberation Sans" font-weight="bold" font-size="19" fill="#e8e8e8" textLength="100" lengthAdjust="spacingAndGlyphs">(DC 7V-30V)</text>
<rect x="85" y="627" width="166.4" height="46" fill="#ffff00"/>
<rect x="251.4" y="627" width="166.4" height="46" fill="#ffff00"/>
<rect x="417.8" y="627" width="166.4" height="46" fill="#9dc885"/>
<rect x="584.2" y="627" width="166.4" height="46" fill="#9dc885"/>
<rect x="750.6" y="627" width="166.4" height="46" fill="#e8a0a0"/>
<g stroke="#2e2e2e" stroke-width="1.9" fill="none">
<rect x="85.3" y="627.6" width="831.7" height="182.4"/>
<path d="M85,673H917M85,719H917M85,765H917M251.4,627V810M417.8,627V810M584.2,627V810M750.6,627V810"/>
</g>
<g text-anchor="middle">
<text class="hd" x="168" y="657">PWMx</text>
<text class="hd" x="334.6" y="657">DIRx</text>
<text class="hd" x="501" y="657">Output A (MxA)</text>
<text class="hd" x="667.4" y="657">Output B (MxB)</text>
<text class="hd" x="833.8" y="657">Motor x</text>
<text class="bd" x="168" y="703">Low</text>
<text class="bd" x="334.6" y="703">X (Don’t Care)</text>
<text class="rg" x="501" y="703">Low</text>
<text class="rg" x="667.4" y="703">Low</text>
<text class="rg" x="833.8" y="703">Brake</text>
<text class="bd" x="168" y="749">High</text>
<text class="bd" x="334.6" y="749">Low</text>
<text class="rg" x="501" y="749">High</text>
<text class="rg" x="667.4" y="749">Low</text>
<text class="rg" x="833.8" y="749">Forward*</text>
<text class="bd" x="168" y="795">High</text>
<text class="bd" x="334.6" y="795">High</text>
<text class="rg" x="501" y="795">Low</text>
<text class="rg" x="667.4" y="795">High</text>
<text class="rg" x="833.8" y="795">Backward*</text>
</g>
<text x="86" y="841" font-family="Liberation Serif" font-size="20" fill="#777">*</text>
<text class="ft" x="110" y="836" textLength="513" lengthAdjust="spacingAndGlyphs">Actual motor direction is depending on the motor connection.</text>
<text class="ft" x="110" y="861" textLength="523" lengthAdjust="spacingAndGlyphs">Swapping the connection (MA &amp; MB) will reverse the direction.</text>
</svg>
</body></html>
